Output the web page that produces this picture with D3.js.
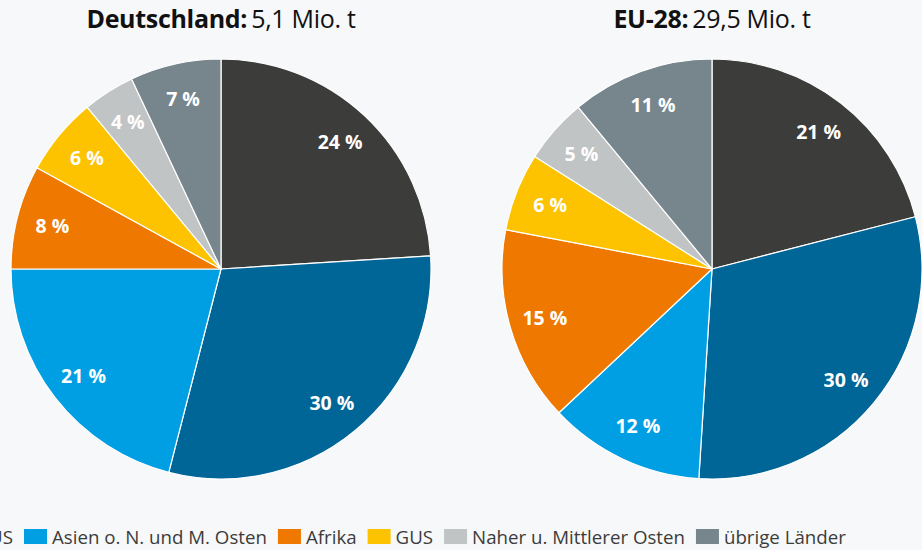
<!DOCTYPE html>
<html>
<head>
<meta charset="utf-8">
<script src="https://cdn.jsdelivr.net/npm/d3@7"></script>
<style>
  html, body { margin: 0; padding: 0; background: #f7f8fa; }
  svg { display: block; font-family: "Open Sans", "Noto Sans", sans-serif; }
</style>
</head>
<body>
<svg id="chart" width="922" height="550"></svg>
<script>
  // regions, in legend order
  var regions = ['EU-28', 'Europa o. EU u. GUS', 'Asien o. N. und M. Osten', 'Afrika', 'GUS',
    'Naher u. Mittlerer Osten', 'übrige Länder'];
  var colors = ['#3c3c3b', '#006597', '#009fe3', '#ef7800', '#fdc300', '#c0c4c5', '#77868d'];

  // shares in percent
  var deValues = [24, 30, 21, 8, 6, 4, 7];
  var euValues = [21, 30, 12, 15, 6, 5, 11];

  var titles = [
    { bold: 'Deutschland:', rest: '5,1 Mio. t' },
    { bold: 'EU-28:', rest: '29,5 Mio. t' }
  ];

  var svg = d3.select('#chart');
  var radius = 210;
  var pie = d3.pie().sort(null).value(function(d) { return d; });
  var arc = d3.arc().innerRadius(0).outerRadius(radius);
  var labelArc = d3.arc().innerRadius(174).outerRadius(174);

  function drawPie(values, cx, title) {
    var g = svg.append('g').attr('transform', 'translate(' + cx + ',269)');

    g.selectAll('path.slice')
      .data(pie(values))
      .enter().append('path')
      .attr('class', 'slice')
      .attr('d', arc)
      .attr('fill', function(d, i) { return colors[i]; })
      .attr('stroke', '#ffffff')
      .attr('stroke-width', 1.2)
      .attr('stroke-linejoin', 'round');

    g.selectAll('text.lbl')
      .data(pie(values))
      .enter().append('text')
      .attr('class', 'lbl')
      .attr('transform', function(d) { return 'translate(' + labelArc.centroid(d) + ')'; })
      .attr('dy', '0.36em')
      .attr('text-anchor', 'middle')
      .attr('fill', '#ffffff')
      .attr('font-weight', 700)
      .attr('font-size', 19.5)
      .text(function(d) { return d.data + ' %'; });

    var t = svg.append('text')
      .attr('x', cx)
      .attr('y', 28)
      .attr('text-anchor', 'middle')
      .attr('font-size', 25)
      .attr('fill', '#111111')
      .attr('letter-spacing', -0.3);
    t.append('tspan').attr('font-weight', 700).text(title.bold);
    t.append('tspan').attr('dx', 4).text(title.rest);
  }

  drawPie(deValues, 221, titles[0]);
  drawPie(euValues, 712, titles[1]);

  // legend: laid out left to right, then shifted so the third swatch sits at x=24
  var legend = svg.append('g').attr('class', 'legend');
  var x = 0, swatchX = [];
  regions.forEach(function(name, i) {
    var item = legend.append('g');
    item.append('rect')
      .attr('x', x).attr('y', 529)
      .attr('width', 23).attr('height', 15)
      .attr('fill', colors[i]);
    var txt = item.append('text')
      .attr('x', x + 28).attr('y', 544)
      .attr('font-size', 18.7)
      .attr('fill', '#3c3c3b')
      .text(name);
    swatchX.push(x);
    x += 28 + txt.node().getComputedTextLength() + 11;
  });
  legend.attr('transform', 'translate(' + (24 - swatchX[2]) + ',0)');
</script>
</body>
</html>
